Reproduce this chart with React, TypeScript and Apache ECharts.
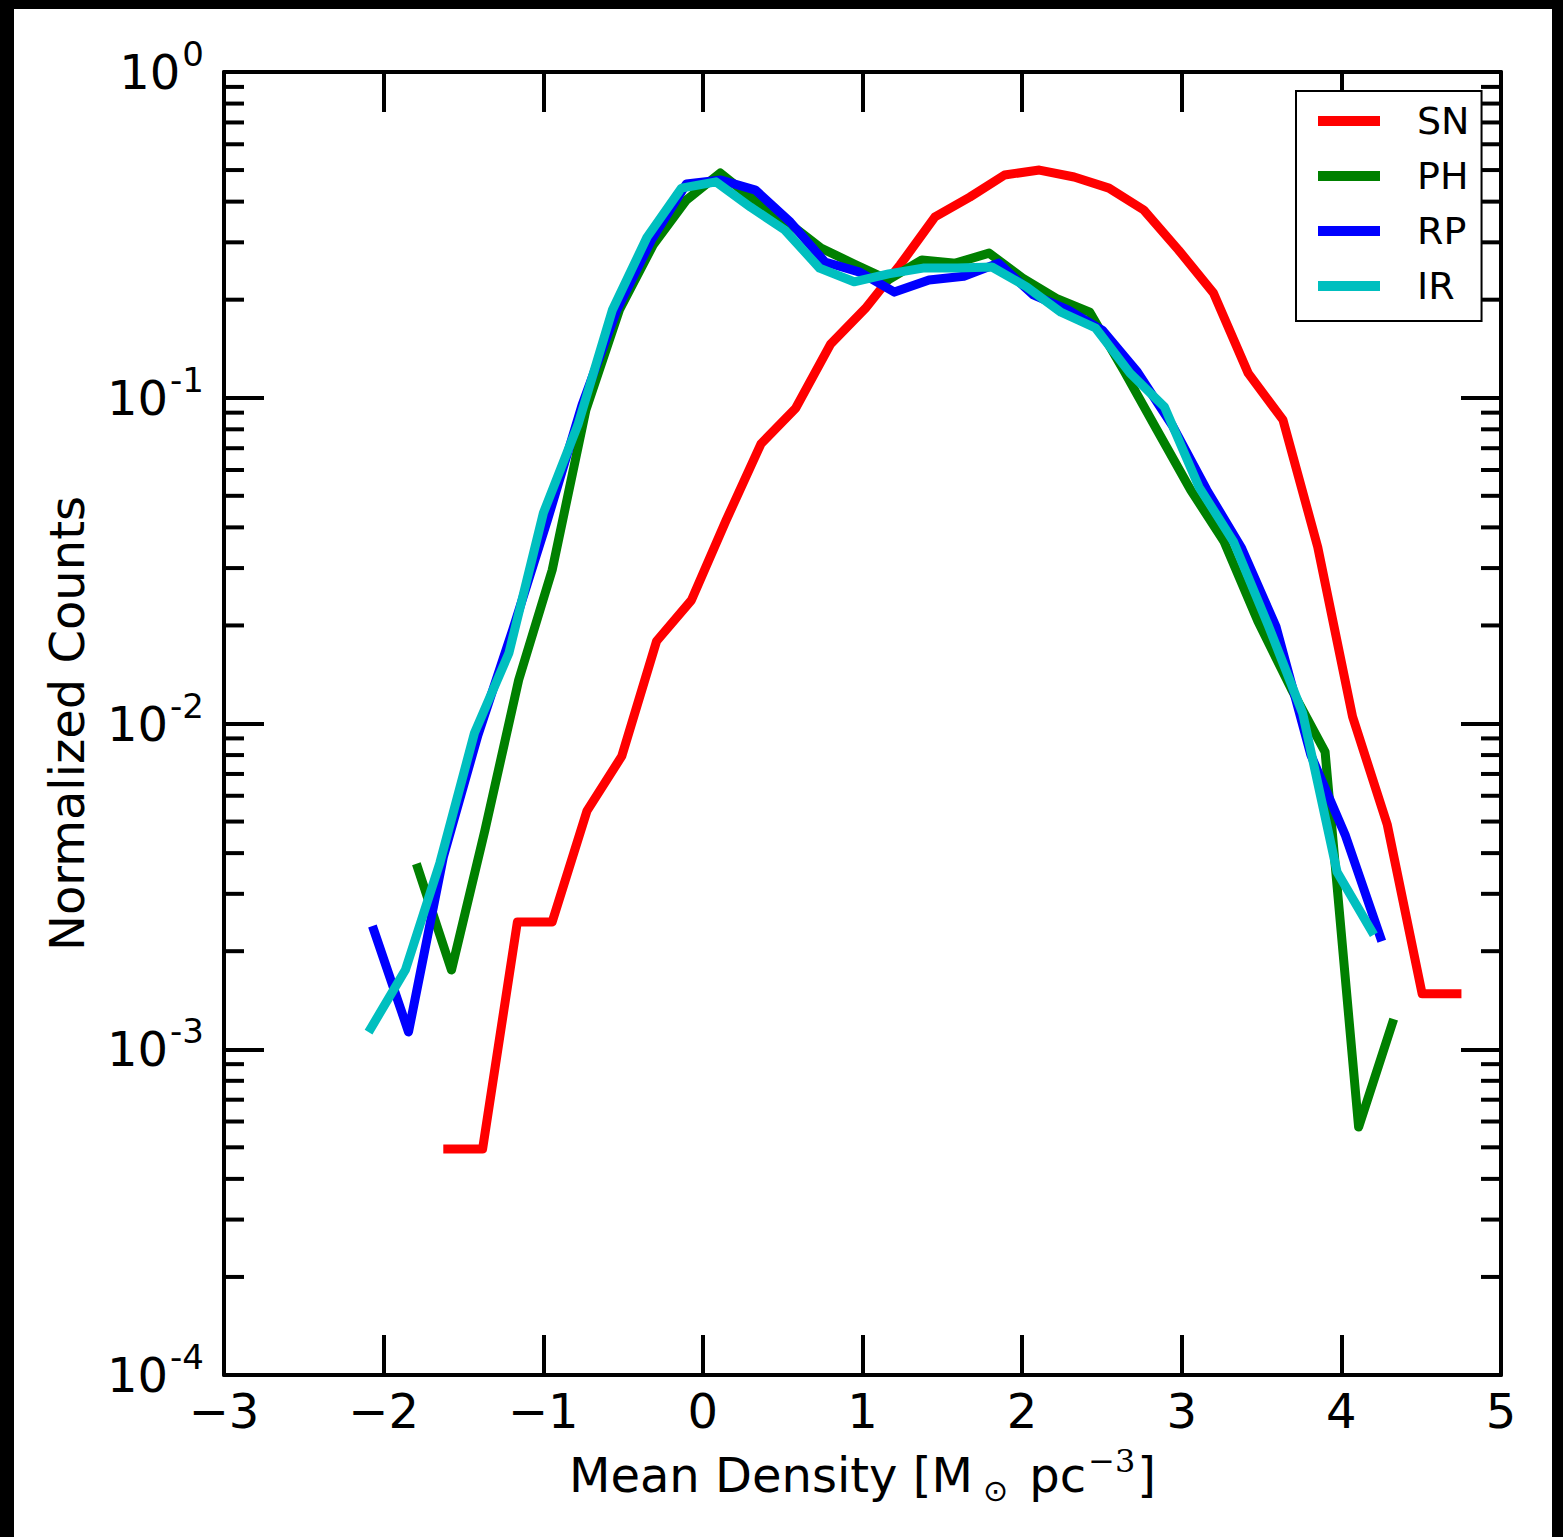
import React, { useEffect, useRef } from 'react';
import * as echarts from 'echarts';

// ---------- data ----------
const snX = [-1.598, -1.380, -1.162, -0.944, -0.726, -0.508, -0.290, -0.072, 0.146, 0.364, 0.582, 0.800, 1.018, 1.236, 1.454, 1.672, 1.890, 2.108, 2.326, 2.544, 2.762, 2.980, 3.198, 3.416, 3.634, 3.852, 4.070, 4.288, 4.506, 4.724];
const snY = [4.94e-4, 4.94e-4, 2.46e-3, 2.46e-3, 5.39e-3, 7.94e-3, 0.0179, 0.0239, 0.0421, 0.0722, 0.0930, 0.146, 0.188, 0.256, 0.359, 0.413, 0.483, 0.500, 0.476, 0.440, 0.377, 0.284, 0.210, 0.119, 0.0855, 0.0348, 0.0105, 4.88e-3, 1.48e-3, 1.48e-3];

const phX = [-1.786, -1.575, -1.365, -1.154, -0.944, -0.733, -0.523, -0.312, -0.102, 0.109, 0.319, 0.530, 0.740, 0.951, 1.161, 1.372, 1.582, 1.793, 2.003, 2.214, 2.424, 2.635, 2.845, 3.056, 3.266, 3.477, 3.687, 3.898, 4.108, 4.319];
const phY = [3.60e-3, 1.75e-3, 4.71e-3, 0.0136, 0.0296, 0.0917, 0.186, 0.294, 0.405, 0.490, 0.405, 0.346, 0.288, 0.257, 0.230, 0.265, 0.259, 0.278, 0.233, 0.202, 0.183, 0.1217, 0.0796, 0.0521, 0.0361, 0.0206, 0.01276, 8.18e-3, 5.77e-4, 1.20e-3];

const rpX = [-2.061, -1.844, -1.626, -1.409, -1.191, -0.974, -0.757, -0.539, -0.322, -0.104, 0.113, 0.330, 0.548, 0.765, 0.983, 1.200, 1.417, 1.635, 1.852, 2.070, 2.287, 2.504, 2.722, 2.939, 3.157, 3.374, 3.591, 3.809, 4.026, 4.244];
const rpY = [2.32e-3, 1.13e-3, 3.89e-3, 9.22e-3, 0.0194, 0.0421, 0.0950, 0.186, 0.305, 0.453, 0.466, 0.434, 0.346, 0.261, 0.243, 0.211, 0.230, 0.236, 0.259, 0.207, 0.186, 0.161, 0.120, 0.0825, 0.0521, 0.0346, 0.0198, 8.0e-3, 4.52e-3, 2.21e-3];

const irX = [-2.080, -1.864, -1.648, -1.431, -1.215, -0.999, -0.783, -0.567, -0.350, -0.134, 0.082, 0.298, 0.514, 0.731, 0.947, 1.163, 1.379, 1.595, 1.811, 2.028, 2.244, 2.460, 2.676, 2.892, 3.108, 3.325, 3.541, 3.757, 3.973, 4.189];
const irY = [1.16e-3, 1.75e-3, 3.73e-3, 9.35e-3, 0.01646, 0.0443, 0.0825, 0.186, 0.311, 0.440, 0.460, 0.385, 0.327, 0.250, 0.227, 0.240, 0.250, 0.250, 0.252, 0.219, 0.183, 0.1637, 0.119, 0.0937, 0.0532, 0.0361, 0.02006, 0.01077, 3.50e-3, 2.31e-3];

const seriesNames = ['SN', 'PH', 'RP', 'IR'];
const seriesColors = ['#ff0000', '#008000', '#0000ff', '#00bfbf'];

const xTickValues = [-3, -2, -1, 0, 1, 2, 3, 4, 5];
const xTickLabels = ['−3', '−2', '−1', '0', '1', '2', '3', '4', '5'];
const yTickExponents = ['0', '-1', '-2', '-3', '-4']; // for 10^0 ... 10^-4
const minorMantissas = [2, 3, 4, 5, 6, 7, 8, 9];
const minorDecades = [1e-4, 1e-3, 1e-2, 1e-1];

const FONT = 'DejaVu Sans';

export default function App() {
  const ref = useRef<HTMLDivElement>(null);

  useEffect(() => {
    if (!ref.current) return;
    const chart = echarts.init(ref.current, null, { renderer: 'svg' });

    const minorVals: number[] = [];
    minorDecades.forEach((d) => minorMantissas.forEach((m) => minorVals.push(m * d)));

    const xs = [snX, phX, rpX, irX];
    const ys = [snY, phY, rpY, irY];

    const lineSeries = seriesNames.map((name, k) => ({
      type: 'line',
      name,
      data: xs[k].map((x, i) => [x, ys[k][i]]),
      color: seriesColors[k],
      showSymbol: false,
      symbol: 'none',
      clip: false,
      z: 2 + k * 0.01,
      lineStyle: { width: 9, color: seriesColors[k], cap: 'square', join: 'round' },
    }));

    const axisLine = { show: true, onZero: false, lineStyle: { color: '#000', width: 4 } };
    const majorTick = { show: true, inside: true, length: 40, lineStyle: { color: '#000', width: 4 } };

    const option: any = {
      animation: false,
      backgroundColor: '#fff',
      color: seriesColors,
      grid: { left: 224, right: 62, top: 72, bottom: 162, containLabel: false, outerBoundsMode: 'none' },
      legend: {
        data: seriesNames,
        orient: 'vertical',
        left: 1296,
        top: 91,
        icon: 'rect',
        itemWidth: 62,
        itemHeight: 10,
        itemGap: 15,
        padding: [10, 12, 15, 22],
        backgroundColor: '#fff',
        borderColor: '#000',
        borderWidth: 2,
        borderRadius: 0,
        selectedMode: false,
        textStyle: { fontSize: 38, fontFamily: FONT, color: '#000', lineHeight: 40, padding: [0, 0, 0, 32] },
      },
      xAxis: [
        {
          type: 'value',
          min: -3,
          max: 5,
          interval: 1,
          position: 'bottom',
          axisLine,
          axisTick: majorTick,
          splitLine: { show: false },
          axisLabel: {
            show: true,
            margin: 12,
            fontSize: 48,
            fontFamily: FONT,
            color: '#000',
            showMinLabel: true,
            showMaxLabel: true,
            formatter: (v: number) => {
              const idx = xTickValues.indexOf(Math.round(v));
              return idx >= 0 ? xTickLabels[idx] : '';
            },
          },
          name: '{a|Mean Density [M}{sub|⊙}{a| pc}{sup|−3}{a|]}',
          nameLocation: 'middle',
          nameGap: 70,
          nameTextStyle: {
            fontSize: 48,
            fontFamily: FONT,
            color: '#000',
            rich: {
              a: { fontSize: 48, fontFamily: FONT, color: '#000', lineHeight: 60 },
              sub: { fontSize: 30, fontFamily: 'DejaVu Sans', color: '#000', lineHeight: 30, verticalAlign: 'bottom', padding: [0, 6, 0, 10] },
              sup: { fontSize: 32, fontFamily: 'DejaVu Serif', color: '#000', lineHeight: 40, verticalAlign: 'top', padding: [0, 2, 0, 2] },
            },
          },
        },
        {
          type: 'value',
          min: -3,
          max: 5,
          interval: 1,
          position: 'top',
          axisLine,
          axisTick: majorTick,
          axisLabel: { show: false },
          splitLine: { show: false },
        },
      ],
      yAxis: [
        {
          type: 'log',
          logBase: 10,
          min: 1e-4,
          max: 1,
          position: 'left',
          axisLine,
          axisTick: majorTick,
          minorTick: { show: false },
          splitLine: { show: false },
          axisLabel: {
            show: true,
            margin: 20,
            color: '#000',
            showMinLabel: true,
            showMaxLabel: true,
            formatter: (v: number) => {
              const e = Math.round(-Math.log10(v));
              const s = yTickExponents[e];
              return s === undefined ? '' : '{b|10}{s|' + s + '}';
            },
            rich: {
              b: { fontSize: 48, fontFamily: FONT, color: '#000', lineHeight: 70 },
              s: { fontSize: 34, fontFamily: FONT, color: '#000', lineHeight: 34, verticalAlign: 'top', padding: [0, 0, 0, 2] },
            },
          },
          name: 'Normalized Counts',
          nameLocation: 'middle',
          nameGap: 133,
          nameRotate: 90,
          nameTextStyle: { fontSize: 48, fontFamily: FONT, color: '#000' },
        },
        {
          type: 'log',
          logBase: 10,
          min: 1e-4,
          max: 1,
          position: 'right',
          axisLine,
          axisTick: majorTick,
          minorTick: { show: false },
          axisLabel: { show: false },
          splitLine: { show: false },
        },
      ],
      graphic: [
        { type: 'rect', left: 0, top: 0, shape: { width: 1563, height: 9 }, style: { fill: '#000' }, silent: true },
        { type: 'rect', left: 0, top: 0, shape: { width: 14, height: 1537 }, style: { fill: '#000' }, silent: true },
        { type: 'rect', left: 1552, top: 0, shape: { width: 11, height: 1537 }, style: { fill: '#000' }, silent: true },
      ],
      series: [
        ...lineSeries,
        {
          type: 'custom',
          name: 'minorTicks',
          silent: true,
          clip: false,
          xAxisIndex: 0,
          yAxisIndex: 0,
          z: 3,
          data: minorVals.map((v) => [-3, v]),
          renderItem: (params: any, api: any) => {
            const v = api.value(1);
            const l = api.coord([-3, v]);
            const r = api.coord([5, v]);
            return {
              type: 'group',
              children: [
                { type: 'line', shape: { x1: l[0], y1: l[1], x2: l[0] + 20, y2: l[1] }, style: { stroke: '#000', lineWidth: 4 } },
                { type: 'line', shape: { x1: r[0] - 20, y1: r[1], x2: r[0], y2: r[1] }, style: { stroke: '#000', lineWidth: 4 } },
              ],
            };
          },
        },
      ],
    };

    chart.setOption(option);
    return () => chart.dispose();
  }, []);

  return (
    <div
      ref={ref}
      style={{ position: 'absolute', left: 0, top: 0, width: 1563, height: 1537, background: '#fff' }}
    />
  );
}
